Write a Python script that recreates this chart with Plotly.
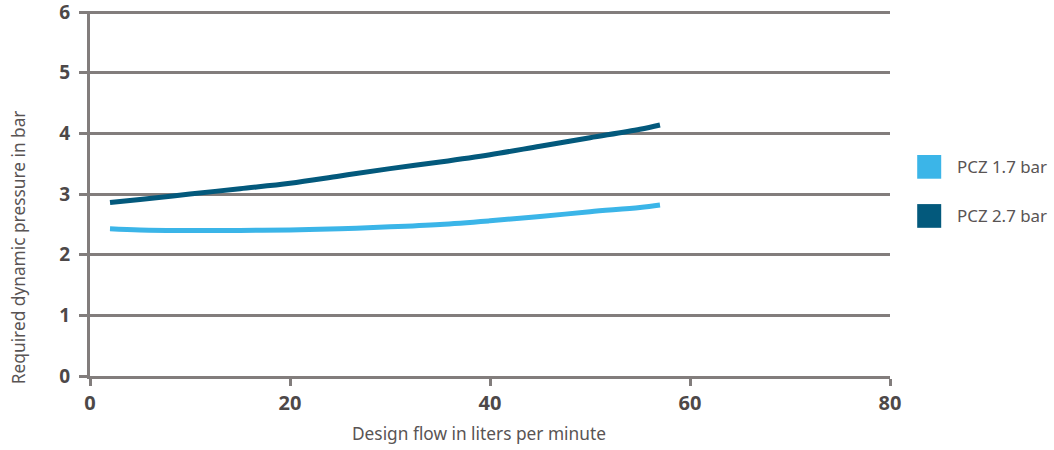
import plotly.graph_objects as go

# flow values (l/min) and required dynamic pressure (bar)
flow = [2, 5, 10, 15, 20, 25, 30, 35, 40, 45, 50, 55, 57]
pcz_17 = [2.43, 2.41, 2.40, 2.40, 2.41, 2.43, 2.46, 2.50, 2.56, 2.63, 2.71, 2.78, 2.82]
pcz_27 = [2.86, 2.91, 3.00, 3.09, 3.18, 3.30, 3.42, 3.53, 3.65, 3.79, 3.93, 4.07, 4.14]

series_names = ["PCZ 1.7 bar", "PCZ 2.7 bar"]
series_colors = ["#3bb5e8", "#03597c"]
x_title = "Design flow in liters per minute"
y_title = "Required dynamic pressure in bar"

grid_col = "#827d7c"
tick_col = "#4d4848"
title_col = "#595454"

fig = go.Figure()
for name, vals, col in zip(series_names, [pcz_17, pcz_27], series_colors):
    fig.add_trace(go.Scatter(x=flow, y=vals, mode="lines", name=name,
                             line=dict(color=col, width=5, shape="spline"),
                             showlegend=False))

# legend as coloured squares + labels (plotly caps legend marker size)
leg_y = [0.573, 0.4385]
for name, col, yy in zip(series_names, series_colors, leg_y):
    fig.add_shape(type="rect", xref="paper", yref="paper",
                  x0=1.034, x1=1.064, y0=yy - 0.0325, y1=yy + 0.0325,
                  fillcolor=col, line=dict(width=0))
    fig.add_annotation(x=1.081, y=yy, xref="paper", yref="paper",
                       text=name, showarrow=False, xanchor="left", yanchor="middle",
                       font=dict(family="Noto Sans", size=16.9, color=title_col))

# axis titles sit off-centre in the original, so place them as annotations
fig.add_annotation(x=0.486, y=-0.157, xref="paper", yref="paper", text=x_title,
                   showarrow=False, xanchor="center", yanchor="middle",
                   font=dict(family="Noto Sans", size=17.3, color=title_col))
fig.add_annotation(x=-0.09, y=0.353, xref="paper", yref="paper", text=y_title,
                   showarrow=False, xanchor="center", yanchor="middle", textangle=-90,
                   font=dict(family="Noto Sans", size=17.3, color=title_col))

fig.update_layout(
    width=1054, height=450,
    margin=dict(l=90, r=164, t=11, b=74),
    plot_bgcolor="white", paper_bgcolor="white",
    showlegend=False,
)
fig.update_xaxes(range=[0, 80], tickvals=[0, 20, 40, 60, 80], automargin=False,
                 showgrid=False, zeroline=False,
                 showline=True, linecolor=grid_col, linewidth=3,
                 ticks="outside", ticklen=7, tickwidth=3, tickcolor=grid_col,
                 tickfont=dict(family="Open Sans", size=20, color=tick_col, weight="bold"))
fig.update_yaxes(range=[0, 6.02], tickvals=[0, 1, 2, 3, 4, 5, 6], automargin=False,
                 ticklabeloverflow="allow", ticklabelstandoff=5,
                 showgrid=True, gridcolor=grid_col, gridwidth=3, zeroline=False,
                 showline=True, linecolor=grid_col, linewidth=3,
                 ticks="outside", ticklen=8, tickwidth=3, tickcolor=grid_col,
                 tickfont=dict(family="Open Sans", size=19, color=tick_col, weight="bold"))

# drop the default 8px page margin so the figure fills the window
fig.write_html("out.html", config={"displayModeBar": False},
               post_script="document.body.style.margin='0';")
